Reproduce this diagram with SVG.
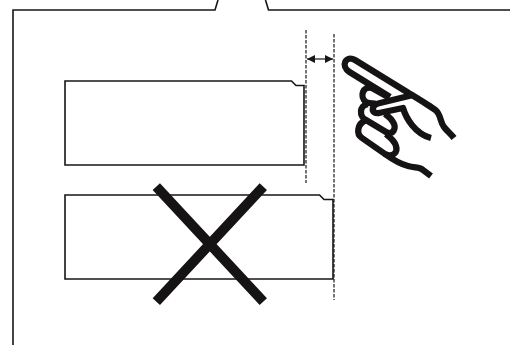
<svg xmlns="http://www.w3.org/2000/svg" width="510" height="345" viewBox="0 0 510 345">
<style>
.l{fill:none;stroke:#161618;stroke-width:1.6;stroke-linejoin:miter}
.d{fill:none;stroke:#161618;stroke-width:1.200;stroke-dasharray:3.5 1.5}
.h{fill:none;stroke:#151314;stroke-width:6.300;stroke-linejoin:round}
.x{stroke:#151314;stroke-width:10;fill:none}
</style>
<defs>
<marker id="a" markerUnits="userSpaceOnUse" viewBox="0 0 8 8" refX="8" refY="4" markerWidth="8" markerHeight="8" orient="auto-start-reverse"><path d="M0 0L8 4L0 8Z" fill="#161618"/></marker>
</defs>
<g id="frame"><path class="l" d="M13 345V10H215L218 0M510 10H268.500L265.500 0"/></g>
<g id="card-good"><path class="l" d="M65 81H291.500L296 85.500H304V165H65Z"/></g>
<g id="card-bad"><path class="l" d="M65 195H319.500L324 199.500H333V279H65Z"/></g>
<g id="cross"><path class="x" d="M156.300 186.700L263.300 301.700M263.300 186.700L156.300 301.700"/></g>
<g id="hand">
<path class="h" d="M390 97L349.500 72C340 66 346 54.500 355 60L407 92C420 100 430 106 436 110.500C441 115 440 122 444 127C447 131 451 134 454 138"/>
<path class="h" d="M372 88C363 85 359 97 366 102C370 104 373 103 376 104M372 88L388 97"/>
<path class="h" d="M411 95.500L380 103C371 105 370 114 379 113L403 108C406 118 415 134 431 138"/>
<path class="h" d="M368 104C359 105 359 117 366 120L386 132C393 136 397 128 393 122C391 118 390 118 385 114"/>
<path class="h" d="M366 120C357 124 356 134 362 138L385 154C393 158 398 152 396 146C395 142 391 138 386 134"/>
<path class="h" d="M385 154C392 159 400 164 408 166C416 168 420 167 423 170L431 176"/>
</g>
<g id="connectors">
<path class="d" d="M306 30V183M334 34V300"/>
<path d="M307 59H333" fill="none" stroke="#161618" stroke-width="1.200" marker-start="url(#a)" marker-end="url(#a)"/>
</g>
</svg>
